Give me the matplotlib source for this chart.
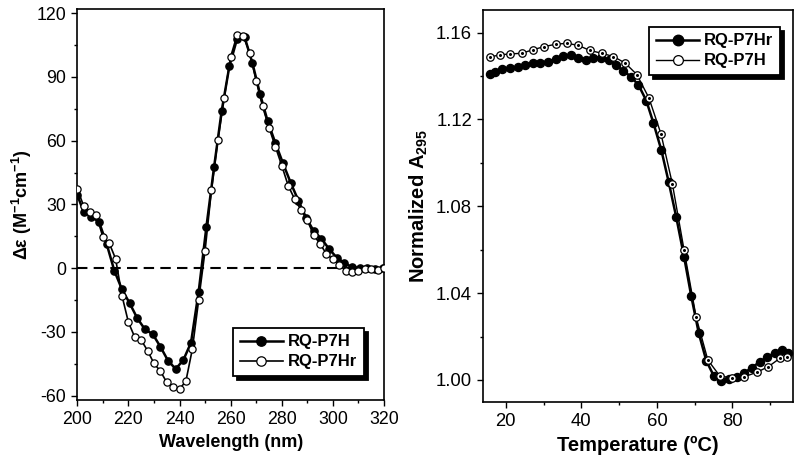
import matplotlib
matplotlib.use("Agg")
import matplotlib.pyplot as plt
from matplotlib.ticker import MultipleLocator

plt.rcParams['font.family'] = ['Liberation Sans', 'DejaVu Sans']
plt.rcParams['mathtext.fontset'] = 'custom'
plt.rcParams['mathtext.rm'] = 'Liberation Sans'
plt.rcParams['mathtext.bf'] = 'Liberation Sans:bold'
plt.rcParams['mathtext.default'] = 'bf'
plt.rcParams['axes.unicode_minus'] = False

# ---- Left panel: CD spectra ----
cd_open_x = [200, 202.5, 205, 207.5, 210, 212.5, 215, 217.5, 220, 222.5, 225, 227.5,
             230, 232.5, 235, 237.5, 240, 242.5, 245, 247.5, 250, 252.5, 255, 257.5,
             260, 262.5, 265, 267.5, 270, 272.5, 275, 277.5, 280, 282.5, 285, 287.5,
             290, 292.5, 295, 297.5, 300, 302.5, 305, 307.5, 310, 312.5, 315, 317.5, 320]
cd_open_y = [37.3, 29.3, 26.3, 25.0, 14.7, 11.8, 4.4, -13.0, -25.4, -32.5, -33.8, -38.8,
             -44.8, -48.4, -53.7, -55.8, -56.9, -53.1, -38.2, -14.9, 8.3, 36.9, 60.3, 80.2,
             99.5, 109.6, 109.1, 101.3, 88.2, 76.1, 66.2, 57.2, 48.3, 38.9, 32.6, 27.5,
             22.5, 15.6, 11.4, 6.7, 4.2, 1.6, -1.2, -1.7, -1.4, -0.5, -0.4, -0.8, 0.3]
cd_fill_x = [200, 202.5, 205.5, 208.5, 211.5, 214.5, 217.5, 220.5, 223.5, 226.5, 229.5,
             232.5, 235.5, 238.5, 241.5, 244.5, 247.5, 250.5, 253.5, 256.5, 259.5, 262.5,
             265.5, 268.5, 271.5, 274.5, 277.5, 280.5, 283.5, 286.5, 289.5, 292.5, 295.5,
             298.5, 301.5, 304.5, 307.5, 310.5, 313.5, 316.5, 319.5]
cd_fill_y = [34.5, 26.5, 24.2, 21.8, 11.4, -1.2, -10.0, -16.5, -23.6, -28.8, -31.0,
             -36.9, -43.5, -47.4, -43.2, -35.0, -11.0, 19.3, 47.4, 74.1, 95.0, 107.9,
             108.6, 96.6, 82.0, 69.1, 58.9, 49.3, 40.2, 31.8, 23.8, 17.5, 13.9,
             9.1, 5.0, 2.4, 0.5, 0.3, 0.0, -0.2, 0.0]

# ---- Right panel: thermal melt ----
tm_fill_x = [15.75, 17.1, 19.1, 21.1, 23.1, 25.0, 27.1, 29.0, 31.1, 33.3, 35.2, 37.2,
             39.2, 41.2, 43.2, 45.1, 47.2, 49.1, 51.1, 53.1, 55.1, 57.2, 59.1, 61.2,
             63.1, 65.1, 67.2, 69.1, 71.1, 73.1, 75.1, 77.1, 79.0, 81.2, 83.1, 85.1,
             87.2, 89.2, 91.2, 93.2, 94.8]
tm_fill_y = [1.1409, 1.1418, 1.1432, 1.1436, 1.1444, 1.1452, 1.1459, 1.1462, 1.1467,
             1.1478, 1.1493, 1.1498, 1.1485, 1.1475, 1.1485, 1.1485, 1.1475, 1.1452,
             1.1425, 1.1397, 1.1360, 1.1287, 1.1183, 1.1058, 1.0914, 1.0753, 1.0568,
             1.0387, 1.0215, 1.0088, 1.0018, 0.9997, 1.0003, 1.0015, 1.0031, 1.0057,
             1.0082, 1.0107, 1.0123, 1.0138, 1.0123]
tm_open_x = [15.9, 18.4, 21.2, 24.2, 27.1, 30.2, 33.3, 36.3, 39.2, 42.3, 45.4, 48.5,
             51.6, 54.7, 57.9, 61.1, 64.1, 67.2, 70.4, 73.5, 76.6, 79.9, 83.2, 86.4,
             89.5, 92.6, 94.5]
tm_open_y = [1.1488, 1.1498, 1.1502, 1.1505, 1.1521, 1.1536, 1.1547, 1.1551, 1.1541,
             1.1518, 1.1505, 1.1490, 1.1460, 1.1407, 1.1299, 1.1133, 1.0904, 1.0599,
             1.0289, 1.0092, 1.0020, 1.0008, 1.0015, 1.0035, 1.0061, 1.0100, 1.0106]

fig = plt.figure(figsize=(8, 4.7), dpi=100)
ax1 = fig.add_axes([0.0966, 0.149, 0.3834, 0.832])
ax2 = fig.add_axes([0.604, 0.144, 0.387, 0.835])

def style(ax, size):
    for s in ax.spines.values():
        s.set_linewidth(1.2)
    ax.tick_params(which='both', direction='out', top=False, right=False,
                   labelsize=size, width=1)
    ax.tick_params(which='major', length=4.5)
    ax.tick_params(which='minor', length=2.5)

# Left
ax1.axhline(0, color='black', lw=1.5, ls=(0, (5, 3)), zorder=1)
ax1.plot(cd_fill_x, cd_fill_y, '-o', color='black', lw=1.8, ms=5.2,
         mfc='black', mec='black', zorder=3, label='RQ-P7H')
ax1.plot(cd_open_x, cd_open_y, '-o', color='black', lw=1.2, ms=5.2,
         mfc='white', mec='black', mew=0.9, zorder=4, label='RQ-P7Hr')
ax1.set_xlim(200, 320)
ax1.set_ylim(-62, 122)
ax1.xaxis.set_major_locator(MultipleLocator(20))
ax1.xaxis.set_minor_locator(MultipleLocator(10))
ax1.yaxis.set_major_locator(MultipleLocator(30))
ax1.yaxis.set_minor_locator(MultipleLocator(15))
style(ax1, 12.8)
ax1.set_xlabel('Wavelength (nm)', fontsize=13, fontweight='bold', labelpad=4)
ax1.set_ylabel(r'Δε (M$^{-1}$cm$^{-1}$)', fontsize=13, fontweight='bold', labelpad=2)
leg1 = ax1.legend(loc='lower right', bbox_to_anchor=(0.935, 0.061), borderaxespad=0,
                  frameon=True, fancybox=False, edgecolor='black', markerscale=1.3,
                  shadow={'color': 'black', 'alpha': 1, 'ox': 3, 'oy': -3},
                  prop={'weight': 'bold', 'size': 12}, handlelength=2.6,
                  handletextpad=0.3, borderpad=0.4, labelspacing=0.3)
leg1.get_frame().set_linewidth(1.3)
leg1.get_frame().set_alpha(1)

# Right
ax2.plot(tm_fill_x, tm_fill_y, '-o', color='black', lw=1.8, ms=5.8,
         mfc='black', mec='black', zorder=3, label='RQ-P7Hr')
ax2.plot(tm_open_x, tm_open_y, '-o', color='black', lw=1.0, ms=5.4,
         mfc='white', mec='black', mew=0.9, zorder=4, label='RQ-P7H')
ax2.plot(tm_open_x, tm_open_y, linestyle='none', marker='o', ms=1.2, color='black', zorder=5)
ax2.set_xlim(14, 96)
ax2.set_ylim(0.9897, 1.1705)
ax2.xaxis.set_major_locator(MultipleLocator(20))
ax2.xaxis.set_minor_locator(MultipleLocator(10))
ax2.yaxis.set_major_locator(MultipleLocator(0.04))
ax2.yaxis.set_minor_locator(MultipleLocator(0.02))
ax2.yaxis.set_major_formatter(matplotlib.ticker.FormatStrFormatter('%.2f'))
style(ax2, 13.3)
ax2.set_xlabel('Temperature (ºC)', fontsize=14.5, fontweight='bold', labelpad=4)
ax2.set_ylabel(r'Normalized A$_{295}$', fontsize=14.5, fontweight='bold', labelpad=4)
h = ax2.get_lines()
leg2 = ax2.legend(handles=h[:2], loc='upper right', bbox_to_anchor=(0.959, 0.957),
                  borderaxespad=0, frameon=True, fancybox=False, edgecolor='black',
                  markerscale=1.3,
                  shadow={'color': 'black', 'alpha': 1, 'ox': 3, 'oy': -3},
                  prop={'weight': 'bold', 'size': 12}, handlelength=2.6,
                  handletextpad=0.3, borderpad=0.4, labelspacing=0.3)
leg2.get_frame().set_linewidth(1.3)
leg2.get_frame().set_alpha(1)

fig.savefig('out.png', dpi=100)
